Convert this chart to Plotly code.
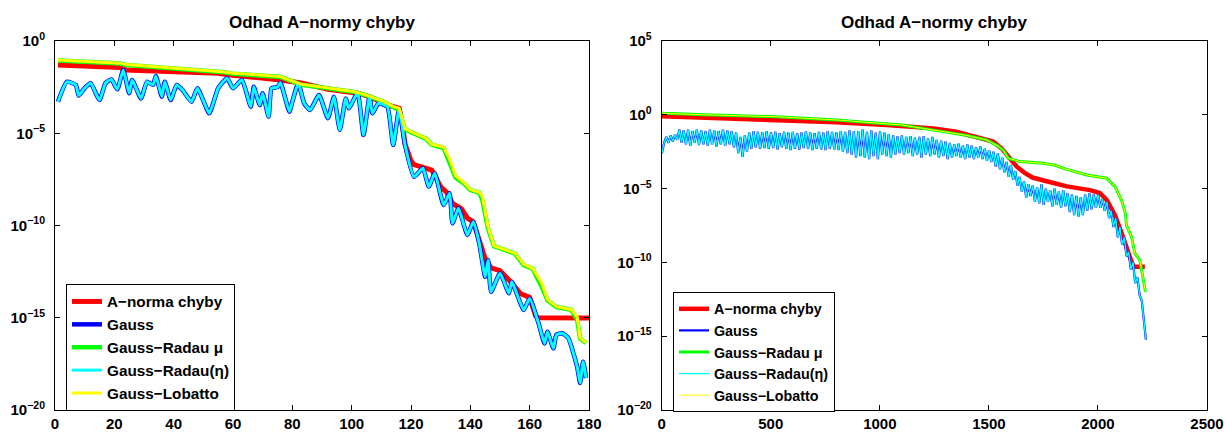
import plotly.graph_objects as go

# ---------------- data (log10 of values) ----------------
# Left panel
L_red_k = [1, 10, 22, 24, 40, 55, 59, 70, 76, 83, 92, 102, 106, 112, 116, 117, 118, 120, 121,
           127, 130, 132, 134, 137, 139, 141, 143, 145, 147, 150, 153, 157, 160, 162, 163, 180]
L_red_e = [-1.30, -1.36, -1.44, -1.57, -1.64, -1.75, -1.84, -1.98, -2.11, -2.28, -2.62, -2.83,
           -3.02, -3.47, -3.65, -4.40, -5.60, -6.50, -6.70, -7.00, -7.90, -8.20, -8.80, -9.10,
           -9.60, -9.80, -10.90, -11.80, -12.30, -12.45, -12.95, -13.70, -13.90, -14.90, -15.00,
           -15.02]

L_gauss_k = [1, 4, 7, 8, 10, 12, 15, 17, 19, 21, 23, 25, 26, 29, 31, 33, 34, 36, 37, 39, 41, 43,
             46, 48, 52, 54, 55, 58, 60, 63, 66, 67, 69, 70, 72, 73, 75, 76, 79, 80, 82, 84, 86,
             89, 92, 94, 96, 98, 99, 102, 104, 106, 107, 109, 112, 114, 116, 118, 121, 124, 126,
             128, 131, 133, 134, 136, 139, 141, 143, 145, 146, 147, 150, 153, 154, 158, 160, 163,
             165, 166, 168, 169, 171, 173, 176, 177, 178, 179]
L_gauss_e = [-3.29, -2.21, -2.38, -2.95, -2.55, -2.29, -3.20, -2.29, -2.08, -2.62, -1.57, -2.83,
             -2.11, -3.11, -2.21, -2.38, -1.90, -3.02, -2.21, -3.20, -2.38, -2.66, -3.29, -2.56,
             -3.92, -3.02, -2.56, -2.02, -2.56, -2.11, -3.56, -2.48, -3.47, -2.83, -4.10, -2.56,
             -2.49, -2.26, -3.83, -3.29, -2.29, -3.38, -3.74, -2.93, -4.19, -3.02, -4.82, -3.11,
             -3.65, -2.83, -5.09, -3.02, -3.92, -3.38, -3.56, -5.64, -3.70, -5.64, -7.36, -6.90,
             -7.90, -7.17, -8.89, -8.25, -9.88, -9.07, -10.51, -9.79, -10.96, -12.78, -11.87,
             -13.59, -12.59, -13.67, -13.05, -14.58, -13.95, -15.30, -16.39, -15.76, -16.66,
             -15.93, -15.84, -16.10, -17.65, -18.54, -17.38, -18.27]
L_radeta_e = list(L_gauss_e)

L_lob_k = [1, 10, 22, 24, 40, 53, 57, 60, 70, 76, 78, 83, 90, 101, 105, 111, 114, 116, 118, 120,
           125, 127, 131, 133, 135, 138, 140, 143, 144, 146, 148, 152, 155, 158, 161, 164, 166,
           169, 174, 176, 177, 179]
L_lob_e = [-1.03, -1.10, -1.20, -1.28, -1.45, -1.62, -1.68, -1.75, -1.85, -1.93, -2.05, -2.35,
           -2.50, -2.75, -2.93, -3.29, -3.56, -3.65, -4.75, -4.92, -5.27, -5.60, -5.75, -6.40,
           -7.30, -7.70, -8.05, -8.20, -8.40, -10.10, -11.10, -11.33, -11.50, -12.10, -12.32,
           -13.10, -14.00, -14.40, -14.55, -14.95, -16.10, -16.35]
L_radmu_e = [-1.06, -1.12, -1.22, -1.30, -1.47, -1.64, -1.70, -1.77, -1.87, -1.95, -2.07, -2.37,
             -2.52, -2.77, -2.95, -3.31, -3.58, -3.75, -4.80, -4.94, -5.29, -5.62, -5.80, -6.60,
             -7.40, -7.75, -8.08, -8.22, -8.60, -10.20, -11.12, -11.35, -11.52, -12.15, -12.34,
             -13.30, -14.05, -14.42, -14.57, -15.10, -16.12, -16.37]

# Right panel
R_red_k = [1, 200, 527, 800, 1031, 1245, 1350, 1444, 1520, 1560, 1596, 1627, 1666, 1700, 1765,
           1857, 1964, 2009, 2040, 2078, 2108, 2131, 2154, 2162, 2215]
R_red_e = [-0.10, -0.20, -0.35, -0.50, -0.69, -0.92, -1.15, -1.48, -1.82, -2.30, -3.00, -3.50,
           -3.96, -4.25, -4.50, -4.85, -5.10, -5.30, -5.77, -6.80, -8.00, -8.90, -10.00, -10.30,
           -10.30]

R_lob_k = [1, 7, 200, 527, 800, 1031, 1100, 1290, 1400, 1490, 1540, 1566, 1590, 1642, 1750, 1800,
           1857, 1949, 2040, 2078, 2108, 2125, 2131, 2154, 2169, 2192, 2207, 2218]
R_lob_e = [0.15, 0.10, 0.00, -0.13, -0.35, -0.58, -0.69, -1.14, -1.40, -1.71, -2.10, -2.40,
           -2.95, -3.17, -3.29, -3.40, -3.70, -4.08, -4.30, -4.87, -5.77, -6.60, -7.50, -8.26,
           -9.38, -9.84, -10.97, -12.00]
R_radmu_e = list(R_lob_e)

R_gauss_k = list(range(1, 2212, 10)) + [2216, 2220]
R_gauss_e = [
    -2.6, -1.9, -1.5, -1.9, -1.4, -1.8, -1.35, -1.7, -1.0, -1.9,
    -1.05, -2.0, -1.0, -2.1, -1.1, -1.9, -1.0, -2.05, -1.05, -2.0,
    -1.1, -2.1, -1.0, -2.0, -1.05, -2.15, -1.1, -2.0, -1.0, -2.1,
    -1.05, -2.0, -1.1, -2.2, -1.2, -2.6, -1.5, -2.85, -1.4, -2.5,
    -1.2, -2.3, -1.1, -2.2, -1.15, -2.3, -1.2, -2.25, -1.1, -2.3,
    -1.2, -2.25, -1.15, -2.35, -1.25, -2.2, -1.15, -2.3, -1.2, -2.4,
    -1.15, -2.3, -1.25, -2.35, -1.2, -2.25, -1.1, -2.3, -1.2, -2.4,
    -1.25, -2.3, -1.15, -2.35, -1.2, -2.4, -1.1, -2.3, -1.15, -2.35,
    -1.2, -2.4, -1.1, -2.5, -1.15, -2.6, -1.05, -2.7, -1.1, -2.9,
    -1.1, -2.8, -1.0, -2.9, -1.15, -3.0, -1.05, -2.8, -1.2, -3.0,
    -1.1, -2.7, -1.2, -2.8, -1.3, -2.9, -1.4, -2.7, -1.45, -2.6,
    -1.4, -2.7, -1.5, -2.6, -1.45, -2.8, -1.55, -2.7, -1.5, -2.9,
    -1.45, -2.7, -1.6, -2.8, -1.5, -2.7, -1.7, -2.9, -1.75, -2.8,
    -1.8, -3.0, -1.9, -2.9, -2.0, -2.8, -1.95, -2.9, -2.1, -3.0,
    -2.0, -2.9, -2.1, -3.0, -2.2, -2.9, -2.15, -3.0, -2.3, -3.1,
    -2.4, -3.2, -2.5, -3.5, -2.6, -3.7, -2.9, -3.9, -3.2, -4.2,
    -3.4, -4.4, -3.8, -4.8, -4.2, -5.2, -4.5, -5.6, -4.7, -5.5,
    -4.8, -5.9, -4.9, -6.0, -4.7, -6.1, -5.0, -5.9, -5.1, -6.2,
    -5.0, -6.1, -5.2, -6.3, -5.1, -6.2, -5.3, -6.6, -5.4, -6.8,
    -5.5, -6.9, -5.6, -6.8, -5.4, -6.5, -5.3, -6.4, -5.4, -6.3,
    -5.4, -6.3, -5.7, -6.5, -5.9, -7.0, -6.5, -7.6, -7.0, -8.3,
    -7.6, -8.8, -8.3, -9.6, -9.3, -10.5, -10.0, -11.4, -11.0, -12.2,
    -12.6, -14.0, -14.5, -15.25]
R_radeta_e = list(R_gauss_e)

names = ["A\u2212norma chyby", "Gauss", "Gauss\u2212Radau \u03bc", "Gauss\u2212Radau(\u03b7)",
         "Gauss\u2212Lobatto"]
colors = ["#FF0000", "#0000FF", "#00FF00", "#00FFFF", "#FFFF00"]
title_text = "Odhad A\u2212normy chyby"

L_xticks = [0, 20, 40, 60, 80, 100, 120, 140, 160, 180]
R_xticks = [0, 500, 1000, 1500, 2000, 2500]
L_yexp = [0, -5, -10, -15, -20]
R_yexp = [5, 0, -5, -10, -15, -20]

FONT = "Liberation Sans, Arial, sans-serif"


def pw(lst):
    return [10 ** e for e in lst]


fig = go.Figure()

left = [
    (L_red_k, L_red_e, 5, "linear"),
    (L_gauss_k, L_gauss_e, 4.5, "spline"),
    (L_lob_k, L_radmu_e, 4.5, "linear"),
    (L_gauss_k, L_radeta_e, 3, "spline"),
    (L_lob_k, L_lob_e, 3, "linear"),
]
for i, (k, e, w, sh) in enumerate(left):
    line = dict(color=colors[i], width=w, shape=sh)
    if sh == "spline":
        line["smoothing"] = 0.5
    fig.add_trace(go.Scatter(x=k, y=pw(e), mode="lines", name=names[i], line=line,
                             xaxis="x", yaxis="y", legend="legend"))

right = [
    (R_red_k, R_red_e, 4.5),
    (R_gauss_k, R_gauss_e, 2.2),
    (R_lob_k, R_radmu_e, 3),
    (R_gauss_k, R_radeta_e, 1.4),
    (R_lob_k, R_lob_e, 1),
]
for i, (k, e, w) in enumerate(right):
    fig.add_trace(go.Scatter(x=k, y=pw(e), mode="lines", name=names[i],
                             line=dict(color=colors[i], width=w),
                             xaxis="x2", yaxis="y2", legend="legend2"))

tickfont = dict(family=FONT, size=15, color="black", weight="bold")


def sup(e):
    s = str(e).replace("-", "\u2212")
    return "10<sup>" + s + "</sup>"


axis_common = dict(showline=True, linecolor="black", linewidth=1, mirror="ticks",
                   ticks="inside", ticklen=5, tickcolor="black", showgrid=False,
                   zeroline=False, tickfont=tickfont, automargin=False)

ybot = 1 - 410 / 432
ytop = 1 - 41 / 432

fig.update_layout(
    width=1226, height=432,
    margin=dict(l=0, r=0, t=0, b=0),
    paper_bgcolor="white", plot_bgcolor="white",
    font=dict(family=FONT, color="black"),
    xaxis=dict(domain=[55 / 1226, 589 / 1226], range=[0, 180], tickvals=L_xticks,
               anchor="y", **axis_common),
    yaxis=dict(domain=[ybot, ytop], type="log", range=[-20, 0],
               tickvals=[10 ** e for e in L_yexp], ticktext=[sup(e) for e in L_yexp],
               anchor="x", ticklabelstandoff=6, **axis_common),
    xaxis2=dict(domain=[661.7 / 1226, 1207 / 1226], range=[0, 2500], tickvals=R_xticks,
                anchor="y2", **axis_common),
    yaxis2=dict(domain=[ybot, ytop], type="log", range=[-20, 5],
                tickvals=[10 ** e for e in R_yexp], ticktext=[sup(e) for e in R_yexp],
                anchor="x2", ticklabelstandoff=6, **axis_common),
    legend=dict(x=66 / 1226, y=1 - 284 / 432, xanchor="left", yanchor="top",
                bgcolor="white", bordercolor="black", borderwidth=1,
                font=dict(family=FONT, size=15.3, color="black", weight="bold")),
    legend2=dict(x=673 / 1226, y=1 - 292 / 432, xanchor="left", yanchor="top",
                 bgcolor="white", bordercolor="black", borderwidth=1,
                 font=dict(family=FONT, size=14.3, color="black", weight="bold")),
    showlegend=True,
    annotations=[
        dict(text=title_text, x=322 / 1226, y=1 - 22 / 432, xref="paper", yref="paper",
             xanchor="center", yanchor="middle", showarrow=False,
             font=dict(family=FONT, size=17, color="black", weight="bold")),
        dict(text=title_text, x=934 / 1226, y=1 - 22 / 432, xref="paper", yref="paper",
             xanchor="center", yanchor="middle", showarrow=False,
             font=dict(family=FONT, size=17, color="black", weight="bold")),
    ],
)

fig.write_html("out.html")
